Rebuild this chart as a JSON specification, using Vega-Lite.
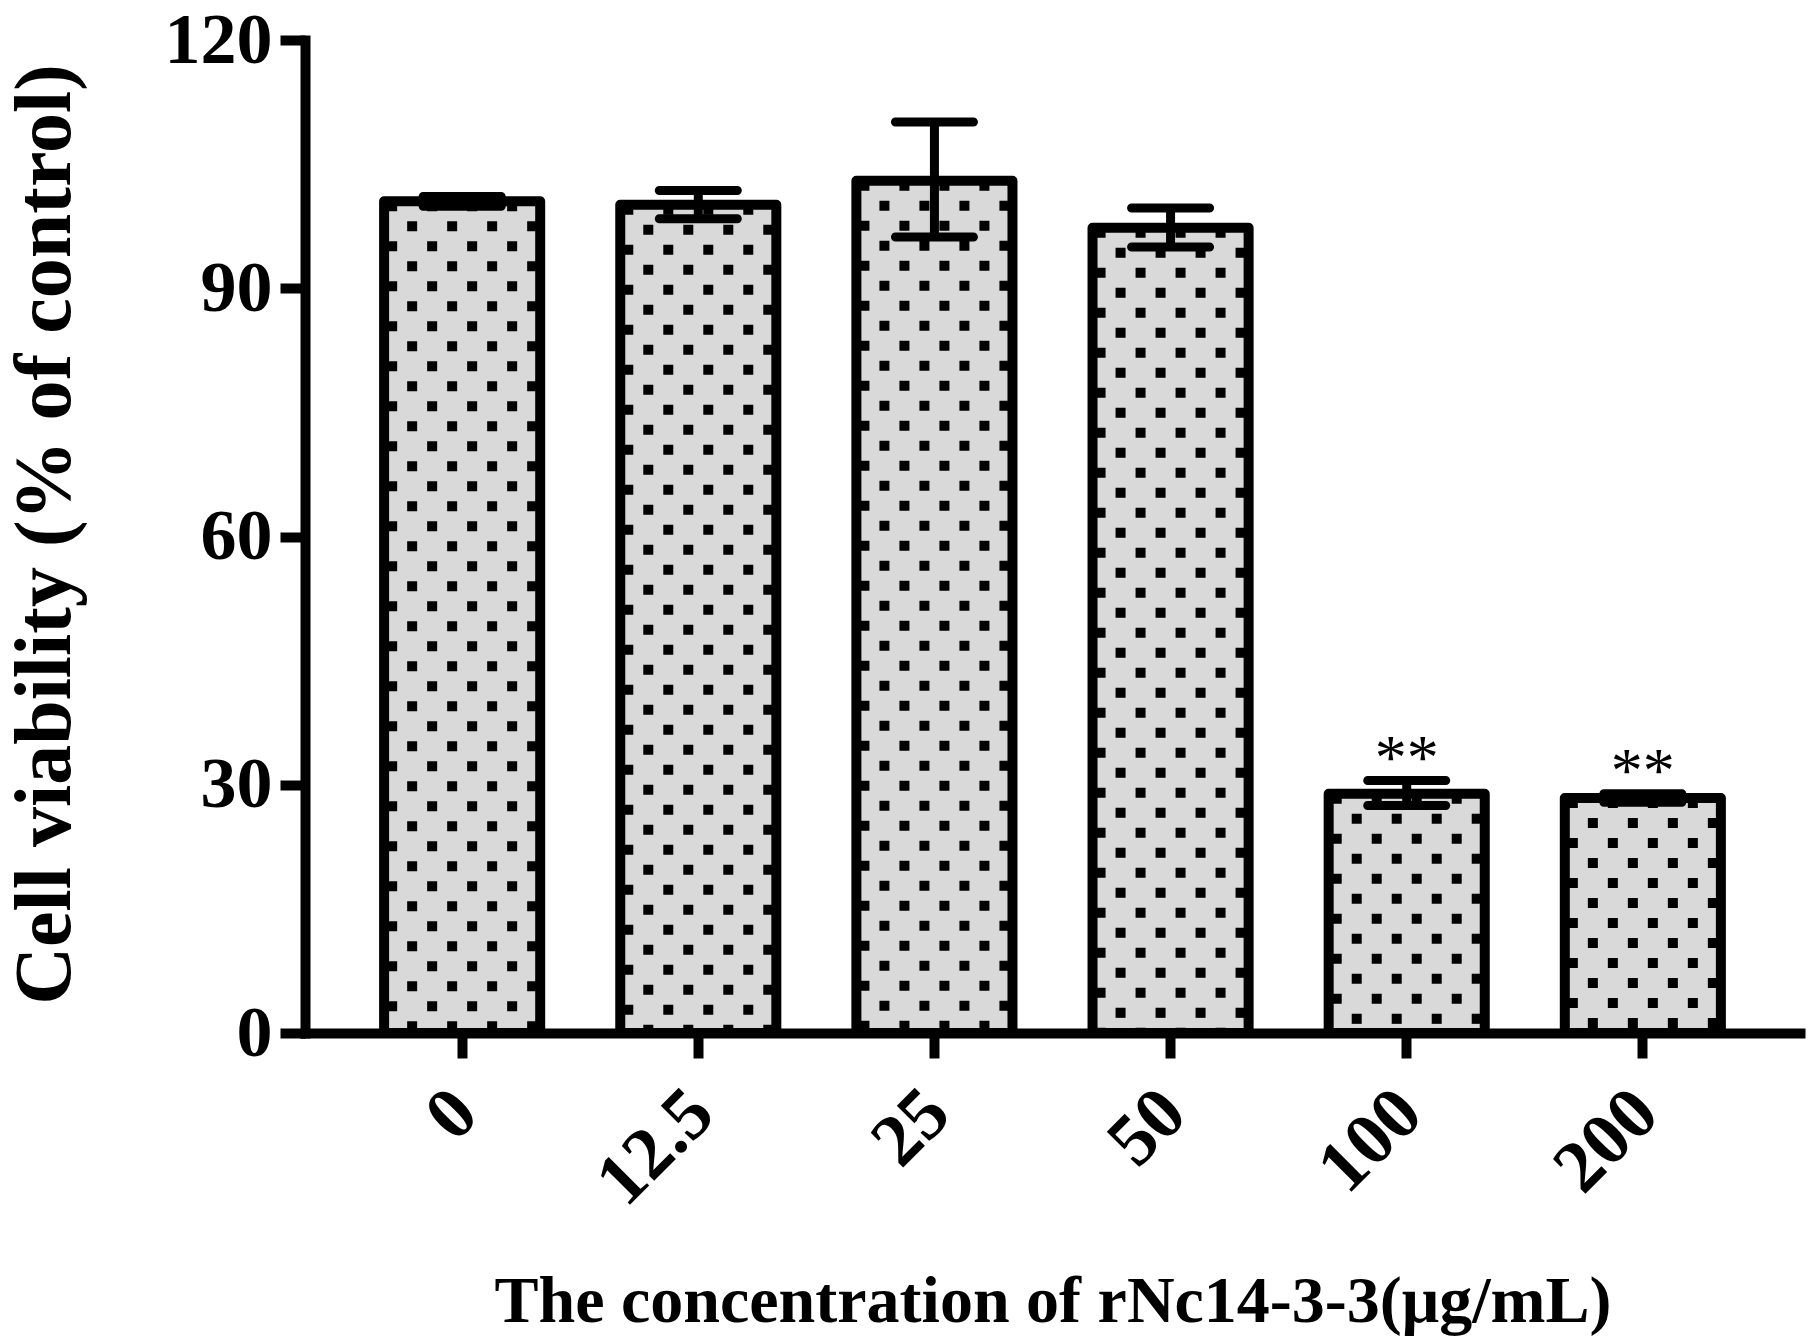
{
  "$schema": "https://vega.github.io/schema/vega-lite/v6.json",
  "description": "Cell viability versus rNc14-3-3 concentration, bars with SEM error bars",
  "autosize": "none",
  "padding": {"left": 305, "top": 40, "right": 10, "bottom": 306},
  "width": 1495,
  "height": 993,
  "background": "white",
  "config": {
    "view": {"stroke": null},
    "font": "Liberation Serif",
    "axis": {"grid": false, "domainColor": "black", "tickColor": "black", "labelColor": "black", "titleColor": "black"}
  },
  "data": {
    "values": [
      {"conc": "0", "mean": 100.5, "low": 99.9, "high": 101.1, "sig": ""},
      {"conc": "12.5", "mean": 100.1, "low": 98.4, "high": 101.8, "sig": ""},
      {"conc": "25", "mean": 103.0, "low": 96.2, "high": 110.1, "sig": ""},
      {"conc": "50", "mean": 97.3, "low": 95.0, "high": 99.7, "sig": ""},
      {"conc": "100", "mean": 28.9, "low": 27.5, "high": 30.5, "sig": "**"},
      {"conc": "200", "mean": 28.4, "low": 27.9, "high": 28.9, "sig": "**"}
    ]
  },
  "encoding": {
    "x": {
      "field": "conc",
      "type": "nominal",
      "sort": null,
      "scale": {"paddingInner": 0.339, "paddingOuter": 0.335},
      "axis": {
        "title": "The concentration of rNc14-3-3(μg/mL)",
        "titleFont": "Liberation Serif",
        "titleFontWeight": "bold",
        "titleFontSize": 66,
        "titleBaseline": "alphabetic",
        "titleY": 288,
        "labelAngle": -45,
        "labelFont": "Liberation Serif",
        "labelFontWeight": "bold",
        "labelFontSize": 74,
        "labelPadding": 18,
        "labelOffset": -22,
        "tickSize": 25,
        "tickWidth": 10,
        "domainWidth": 10,
        "domainCap": "square",
        "zindex": 1
      }
    }
  },
  "layer": [
    {
      "mark": {"type": "bar", "fill": "#d9d9d9", "strokeWidth": 0},
      "encoding": {
        "y": {
          "field": "mean",
          "type": "quantitative",
          "scale": {"domain": [0, 120], "nice": false},
          "axis": {
            "title": "Cell viability (% of control)",
            "titleFont": "Liberation Serif",
            "titleFontWeight": "bold",
            "titleFontSize": 80,
            "titleAngle": -90,
            "titleBaseline": "alphabetic",
            "titleAlign": "center",
            "titleX": -236,
            "titleY": 494,
            "values": [0, 30, 60, 90, 120],
            "labelFont": "Liberation Serif",
            "labelFontWeight": "bold",
            "labelFontSize": 72,
            "labelPadding": 8,
            "tickSize": 25,
            "tickWidth": 10,
            "domainWidth": 10,
            "domainCap": "square",
            "zindex": 1
          }
        }
      }
    },
    {"mark": {"type": "rule", "color": "black", "strokeWidth": 10, "strokeDash": [10, 30], "strokeDashOffset": 0, "xOffset": -70},
     "encoding": {"y": {"field": "mean", "type": "quantitative"}, "y2": {"datum": 0}}},
    {"mark": {"type": "rule", "color": "black", "strokeWidth": 10, "strokeDash": [10, 30], "strokeDashOffset": 20, "xOffset": -50},
     "encoding": {"y": {"field": "mean", "type": "quantitative"}, "y2": {"datum": 0}}},
    {"mark": {"type": "rule", "color": "black", "strokeWidth": 10, "strokeDash": [10, 30], "strokeDashOffset": 0, "xOffset": -30},
     "encoding": {"y": {"field": "mean", "type": "quantitative"}, "y2": {"datum": 0}}},
    {"mark": {"type": "rule", "color": "black", "strokeWidth": 10, "strokeDash": [10, 30], "strokeDashOffset": 20, "xOffset": -10},
     "encoding": {"y": {"field": "mean", "type": "quantitative"}, "y2": {"datum": 0}}},
    {"mark": {"type": "rule", "color": "black", "strokeWidth": 10, "strokeDash": [10, 30], "strokeDashOffset": 0, "xOffset": 10},
     "encoding": {"y": {"field": "mean", "type": "quantitative"}, "y2": {"datum": 0}}},
    {"mark": {"type": "rule", "color": "black", "strokeWidth": 10, "strokeDash": [10, 30], "strokeDashOffset": 20, "xOffset": 30},
     "encoding": {"y": {"field": "mean", "type": "quantitative"}, "y2": {"datum": 0}}},
    {"mark": {"type": "rule", "color": "black", "strokeWidth": 10, "strokeDash": [10, 30], "strokeDashOffset": 0, "xOffset": 50},
     "encoding": {"y": {"field": "mean", "type": "quantitative"}, "y2": {"datum": 0}}},
    {"mark": {"type": "rule", "color": "black", "strokeWidth": 10, "strokeDash": [10, 30], "strokeDashOffset": 20, "xOffset": 70},
     "encoding": {"y": {"field": "mean", "type": "quantitative"}, "y2": {"datum": 0}}},
    {
      "mark": {"type": "bar", "fill": "white", "fillOpacity": 0, "stroke": "black", "strokeWidth": 10, "strokeJoin": "round"},
      "encoding": {"y": {"field": "mean", "type": "quantitative"}}
    },
    {
      "mark": {"type": "rule", "color": "black", "strokeWidth": 9, "opacity": 1},
      "encoding": {
        "y": {"field": "low", "type": "quantitative"},
        "y2": {"field": "high"}
      }
    },
    {
      "mark": {"type": "tick", "color": "black", "opacity": 1, "thickness": 9, "size": 87, "cornerRadius": 4.5},
      "encoding": {"y": {"field": "low", "type": "quantitative"}}
    },
    {
      "mark": {"type": "tick", "color": "black", "opacity": 1, "thickness": 9, "size": 87, "cornerRadius": 4.5},
      "encoding": {"y": {"field": "high", "type": "quantitative"}}
    },
    {
      "transform": [{"filter": "datum.sig != ''"}],
      "mark": {"type": "text", "font": "Liberation Serif", "fontSize": 64, "baseline": "alphabetic", "align": "center", "dy": -2, "color": "black"},
      "encoding": {
        "y": {"field": "high", "type": "quantitative"},
        "text": {"field": "sig"}
      }
    }
  ]
}
